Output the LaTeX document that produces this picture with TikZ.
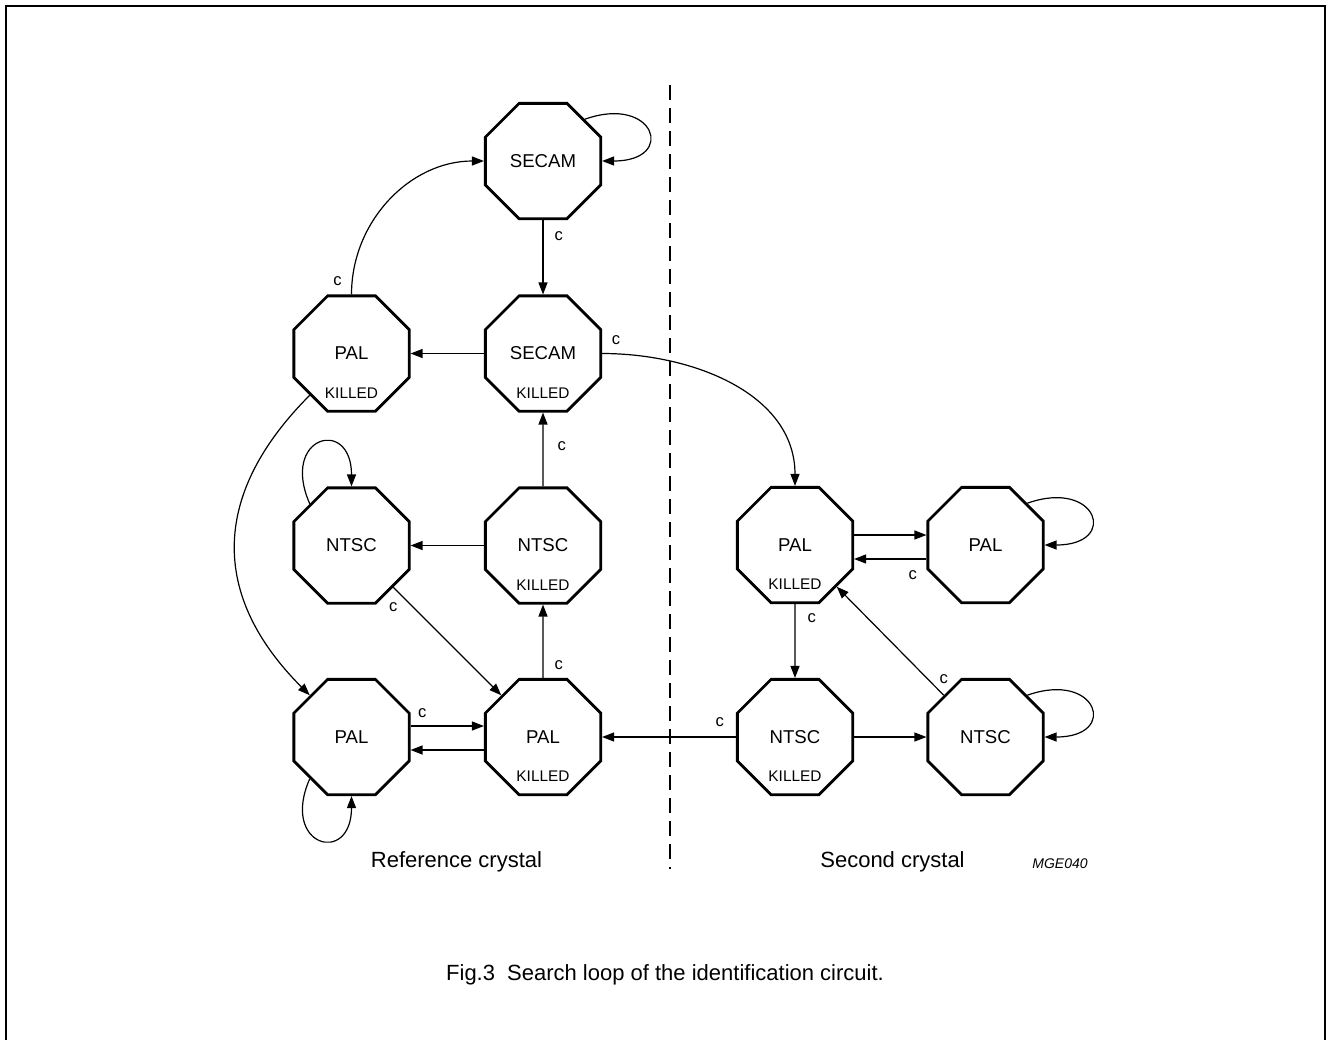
\documentclass[tikz,border=0pt]{standalone}
\usepackage{fontspec}
\setmainfont{Liberation Sans}
\usetikzlibrary{shapes.geometric,arrows.meta,positioning}

\tikzset{
  state/.style={draw, line width=1.4pt, regular polygon, regular polygon sides=8,
    minimum size=62.4pt, inner sep=0pt, font=\fontsize{9.3}{11}\selectfont},
  killtext/.style={inner sep=0pt, font=\fontsize{7.7}{9}\selectfont},
  killed/.style={label={[killtext, anchor=base, yshift=7.2pt]below:KILLED}},
  clab/.style={inner sep=0.5pt, font=\fontsize{8.3}{10}\selectfont},
  trans/.style={line width=0.6pt, -{Triangle[length=6pt,width=4.5pt]}},
}

\begin{document}
\begin{tikzpicture}[x=0.5pt,y=-0.5pt]
\useasboundingbox (0,0) rectangle (1327,1039);
\draw[line width=1pt] (5.5,1050) -- (5.5,6) -- (1325,6) -- (1325,1050); % frame
\draw[line width=0.6pt, dash pattern=on 7.5pt off 4pt] (670,85) -- (670,869);

% reference crystal
\node[state] (secamA) at (543,161) {SECAM};
\node[state,killed] (secamK) at (543,353.5) {SECAM};
\node[state,killed] (palKa) at (351.5,353.5) {PAL};
\node[state] (ntscA) at (351.5,545.5) {NTSC};
\node[state,killed] (ntscK) at (543,545.5) {NTSC};
\node[state] (palA) at (351.5,737) {PAL};
\node[state,killed] (palKb) at (543,737) {PAL};
% second crystal
\node[state,killed] (palKc) at (795,545) {PAL};
\node[state] (palB) at (985.5,545) {PAL};
\node[state,killed] (ntscKb) at (795,737) {NTSC};
\node[state] (ntscB) at (985.5,737) {NTSC};

% transitions, reference side
\draw[trans] (secamA.45) .. controls +(70,-25) and +(75,0) .. (secamA.east);
\draw[trans] (secamA.south) -- node[clab,pos=.21,right=5pt]{c} (secamK.north);
\draw[trans] (secamK.west) -- (palKa.east);
\draw[trans] (palKa.north) to[out=90,in=180] node[clab,at start,xshift=-7pt,yshift=6.5pt]{c} (secamA.west);
\draw[trans] (secamK.east) to[out=0,in=90] node[clab,at start,xshift=7pt,yshift=6.8pt]{c} (palKc.north);
\draw[trans] (ntscK.north) -- node[clab,pos=.55,right=6.5pt]{c} (secamK.south);
\draw[trans] (ntscK.west) -- (ntscA.east);
\draw[trans] (ntscA.135) .. controls +(-30,-68) and +(0,-70) .. (ntscA.north);
\draw[trans] (ntscA.-45) -- node[clab,at start,below=7pt]{c} (palKb.135);
\draw[trans] (palKa.225) to[out=225,in=135,looseness=1.2] (palA.135);
\draw[trans] ([yshift=5.5pt]palA.east) -- node[clab,pos=.16,above=3.5pt]{c} ([yshift=5.5pt]palKb.west);
\draw[trans] ([yshift=-6.5pt]palKb.west) -- ([yshift=-6.5pt]palA.east);
\draw[trans] (palA.225) .. controls +(-30,68) and +(0,70) .. (palA.south);
\draw[trans] (palKb.north) -- node[clab,pos=.18,right=5pt]{c} (ntscK.south);

% transitions, second side
\draw[trans] (ntscKb.west) -- node[clab,pos=.12,above=4.5pt]{c} (palKb.east);
\draw[trans] (ntscKb.east) -- (ntscB.west);
\draw[trans] (ntscB.45) .. controls +(70,-25) and +(75,0) .. (ntscB.east);
\draw[trans] (ntscB.135) -- node[clab,at start,above=5pt]{c} (palKc.-45);
\draw[trans] (palKc.south) -- node[clab,pos=.19,right=5.5pt]{c} (ntscKb.north);
\draw[trans] ([yshift=5pt]palKc.east) -- ([yshift=5pt]palB.west);
\draw[trans] ([yshift=-7pt]palB.west) -- node[clab,pos=.19,below=5pt]{c} ([yshift=-7pt]palKc.east);
\draw[trans] (palB.45) .. controls +(70,-25) and +(75,0) .. (palB.east);

% texts
\node[font=\fontsize{11}{13}\selectfont] (refc) at (456.5,862) {Reference crystal};
\node[font=\fontsize{11}{13}\selectfont] (secc) at (892.5,862) {Second crystal};
\node[font=\fontsize{7}{8}\selectfont\itshape] (code) at (1060,864) {MGE040};
\node[font=\fontsize{11}{13}\selectfont] (cap) at (665,975) {Fig.3\hskip0.55em Search loop of the identification circuit.};
\end{tikzpicture}
\end{document}
